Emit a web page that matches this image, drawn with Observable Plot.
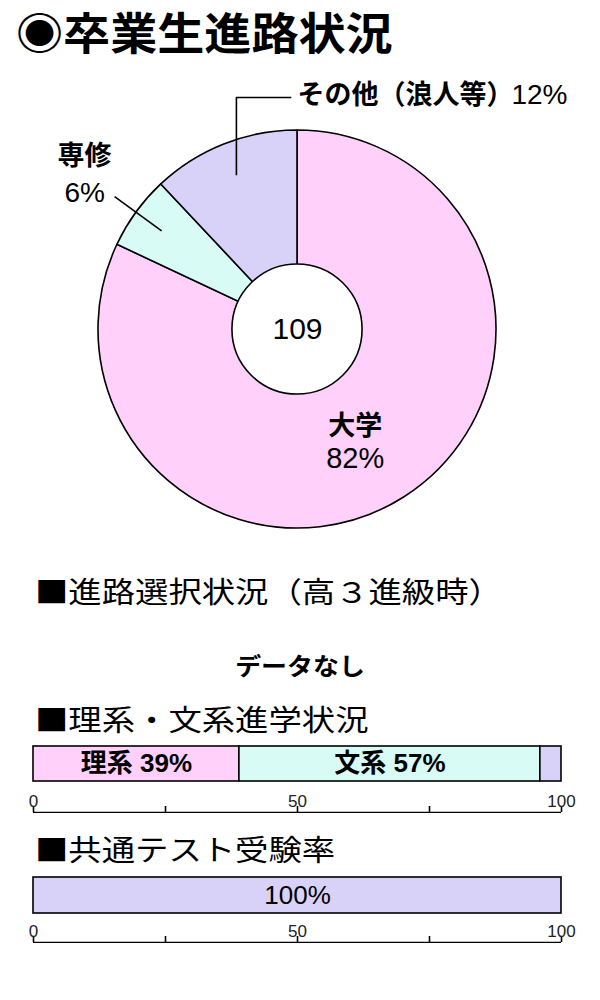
<!DOCTYPE html>
<html><head><meta charset="utf-8">
<script src="https://cdn.jsdelivr.net/npm/d3@7"></script>
<script src="https://cdn.jsdelivr.net/npm/@observablehq/plot@0.6"></script>
<style>
body{margin:0;background:#fff;}
#wrap{position:relative;width:600px;height:1000px;overflow:hidden;font-family:"Noto Sans CJK JP",sans-serif;color:#000;background:#fff;}
.abs{position:absolute;left:0;}
.title{left:16px;top:9px;font-size:44px;font-weight:bold;line-height:1;transform:scaleX(1.07);transform-origin:left top;white-space:nowrap;}
.h{left:35px;font-size:29px;line-height:1;transform:scaleX(1.15);transform-origin:left top;white-space:nowrap;font-weight:normal;}
.nodata{left:0;width:600px;text-align:center;font-size:24px;font-weight:bold;line-height:1;}
.nodata span{display:inline-block;transform:scaleX(1.08);}
</style></head>
<body><div id="wrap"></div>
<script>
// ---- data ----
const titleText = "◉卒業生進路状況";
const pieCategories = ["大学", "専修", "その他（浪人等）"];
const pieValues = [82, 6, 12];
const pieColors = ["#ffd0fa", "#d8fcf5", "#d8d2f8"];
const totalGraduates = 109;

const choiceTitle = "■進路選択状況（高３進級時）";
const noDataText = "データなし";

const streamTitle = "■理系・文系進学状況";
const streamCategories = ["理系", "文系", "その他"];
const streamValues = [39, 57, 4];
const streamColors = ["#ffd0fa", "#d8fcf5", "#d8d2f8"];

const examTitle = "■共通テスト受験率";
const examCategories = ["受験"];
const examValues = [100];
const examColors = ["#d8d2f8"];

const axisTicks = [0, 25, 50, 75, 100];
const axisLabels = [0, 50, 100];

// ---- layout ----
const wrap = document.getElementById("wrap");
function place(el, top, left) {
  el.style.position = "absolute";
  el.style.top = top + "px";
  el.style.left = (left || 0) + "px";
  wrap.appendChild(el);
  return el;
}
function htmlText(cls, text, top) {
  const d = document.createElement("div");
  d.className = "abs " + cls;
  d.innerHTML = "<span>" + text + "</span>";
  d.style.top = top + "px";
  wrap.appendChild(d);
  return d;
}
htmlText("title", titleText, 9);

// ---- pie ----
const PW = 600, PH = 480, CX = 297, CY = 269, RPX = 199, INNER = 0.327;
const FONT = "Liberation Sans, Noto Sans CJK JP, sans-serif";
const pieColor = Plot.scale({color: {type: "ordinal", domain: pieCategories, range: pieColors}});
const arcs = d3.pie().sort(null).value(d => d)(pieValues).map((a, i) => ({...a, cat: pieCategories[i], value: pieValues[i], mid: (a.startAngle + a.endAngle) / 2}));
const polar = (a, k) => [Math.sin(a) * k, Math.cos(a) * k];

function slices(index, scales) {
  const sx = scales.x, sy = scales.y;
  const cx = sx(0), cy = sy(0), R = sx(1) - sx(0);
  const g = d3.create("svg:g").attr("transform", `translate(${cx},${cy})`);
  const arc = d3.arc().innerRadius(0).outerRadius(R);
  g.selectAll("path").data(arcs).join("path")
    .attr("d", arc)
    .attr("fill", d => pieColor.apply(d.cat))
    .attr("stroke", "#000").attr("stroke-width", 1.6).attr("stroke-linejoin", "round");
  g.append("circle").attr("r", R * INNER).attr("fill", "#fff").attr("stroke", "#000").attr("stroke-width", 1.6);
  return g.node();
}

const senmon = arcs[1], other = arcs[2], univ = arcs[0];
const sA = polar(senmon.mid, 0.844), sB = polar(senmon.mid, 1.136);
const oA = polar(other.mid, 0.834);
const oTopY = 1.166;
const otherLeader = [oA, [oA[0], oTopY], [oA[0] + 0.276, oTopY]];
const uC = polar(univ.mid, (1 + INNER) / 2);

const piePlot = Plot.plot({
  width: PW, height: PH, margin: 0,
  x: {domain: [-CX / RPX, (PW - CX) / RPX], axis: null},
  y: {domain: [-(PH - CY) / RPX, CY / RPX], axis: null},
  marks: [
    slices,
    Plot.link([senmon], {x1: () => sA[0], y1: () => sA[1], x2: () => sB[0], y2: () => sB[1], stroke: "#000", strokeWidth: 1.6}),
    Plot.line(otherLeader, {x: d => d[0], y: d => d[1], stroke: "#000", strokeWidth: 1.6, strokeLinejoin: "miter", strokeLinecap: "butt"}),
    Plot.text([totalGraduates], {x: () => 0, y: () => 0, text: d => String(d), fontSize: 30, fontFamily: FONT}),
    Plot.text([univ], {x: () => uC[0], y: () => uC[1], text: d => d.cat, dx: -13, dy: -15, fontSize: 27, fontWeight: "bold", fontFamily: FONT}),
    Plot.text([univ], {x: () => uC[0], y: () => uC[1], text: d => d.value + "%", dx: -13, dy: 18, fontSize: 29, fontFamily: FONT}),
    Plot.text([senmon], {x: () => sB[0], y: () => sB[1], text: d => d.cat, dx: -30, dy: -40, fontSize: 27, fontWeight: "bold", fontFamily: FONT}),
    Plot.text([senmon], {x: () => sB[0], y: () => sB[1], text: d => d.value + "%", dx: -30, dy: -4, fontSize: 28, fontFamily: FONT}),
    Plot.text([other], {x: () => 0, y: () => oTopY, text: d => d.cat, textAnchor: "start", dy: -2, fontSize: 27, fontWeight: "bold", fontFamily: FONT}),
    Plot.text([other], {x: () => (567 - CX) / RPX, y: () => oTopY, text: d => d.value + "%", textAnchor: "end", dy: -2, fontSize: 28, fontFamily: FONT})
  ]
});
place(piePlot, 60);

// ---- sections ----
htmlText("h", choiceTitle, 576);
htmlText("nodata", noDataText, 653);
htmlText("h", streamTitle, 704);
htmlText("h", examTitle, 834);

const ML = 33, MR = 39;
function barPlot(cats, vals, colors, height, labelFn, weight, size) {
  const data = cats.map((c, i) => ({cat: c, value: vals[i]}));
  return Plot.plot({
    width: 600, height, marginTop: 1, marginBottom: 1, marginLeft: ML, marginRight: MR,
    x: {domain: [0, 100], axis: null},
    color: {domain: cats, range: colors},
    marks: [
      Plot.barX(data, {x: "value", fill: "cat", stroke: "#000", strokeWidth: 1.6}),
      Plot.text(data, Plot.stackX({x: "value", text: labelFn, filter: d => d.value >= 10, fontSize: size, fontWeight: weight, fontFamily: FONT, fill: "#000"}))
    ]
  });
}
function axisPlot() {
  return Plot.plot({
    width: 600, height: 30, marginTop: 0, marginBottom: 1, marginLeft: ML, marginRight: MR,
    x: {domain: [0, 100], axis: null},
    y: {domain: [0, 1], axis: null},
    marks: [
      Plot.ruleY([0], {stroke: "#000", strokeWidth: 1.6}),
      Plot.ruleX(axisTicks, {x: d => d, insetTop: 23, stroke: "#000", strokeWidth: 1.6}),
      Plot.text(axisLabels, {x: d => d, text: d => String(d), frameAnchor: "top", dy: 11, fontSize: 17, fontFamily: FONT, fill: "#222"})
    ]
  });
}
place(barPlot(streamCategories, streamValues, streamColors, 37, d => `${d.cat} ${d.value}%`, "bold", 26), 745);
place(axisPlot(), 783);
place(barPlot(examCategories, examValues, examColors, 38, d => `${d.value}%`, "normal", 26), 876);
place(axisPlot(), 913);
</script>
</body></html>
